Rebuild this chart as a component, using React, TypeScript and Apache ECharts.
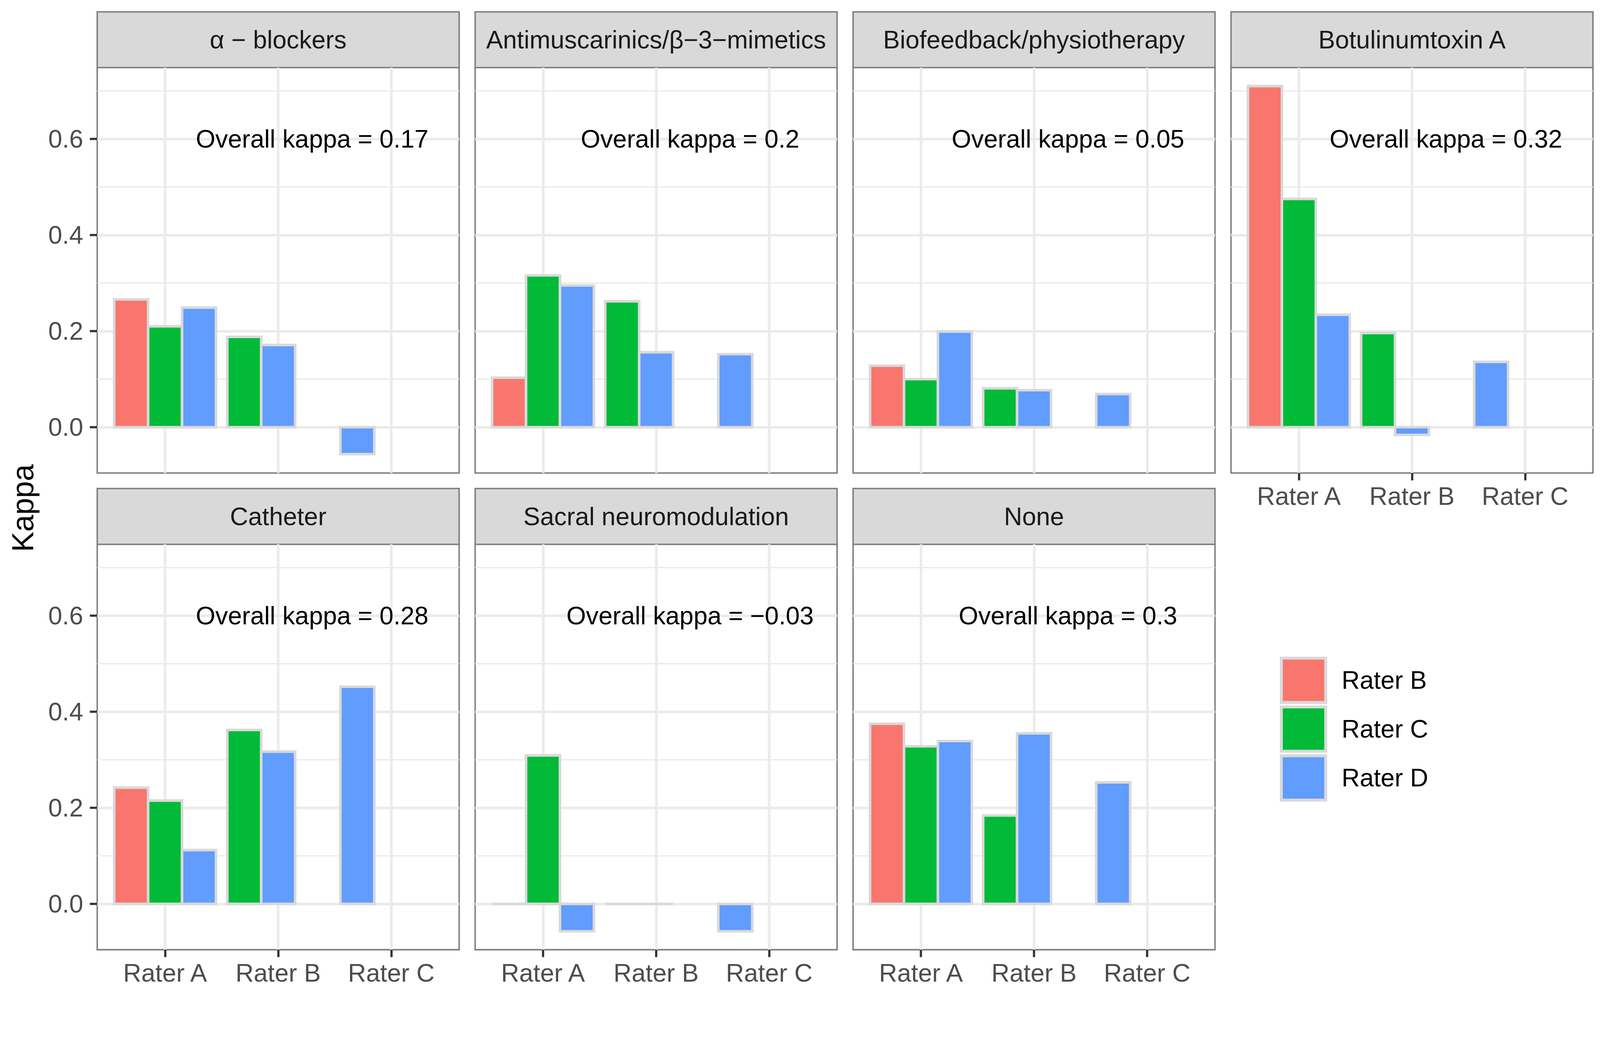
import React, { useEffect, useRef } from 'react';
import * as echarts from 'echarts';

// ---------- data ----------
const facetNames = [
  'α − blockers',
  'Antimuscarinics/β−3−mimetics',
  'Biofeedback/physiotherapy',
  'Botulinumtoxin A',
  'Catheter',
  'Sacral neuromodulation',
  'None',
];
const xRaters = ['Rater A', 'Rater B', 'Rater C'];
const fillRaters = ['Rater B', 'Rater C', 'Rater D'];
// rater pairs (x rater index, fill rater index among A..D): A-B, A-C, A-D, B-C, B-D, C-D
const pairs: [number, number][] = [[0, 1], [0, 2], [0, 3], [1, 2], [1, 3], [2, 3]];
const kappaAlphaBlockers = [0.266, 0.21, 0.249, 0.188, 0.171, -0.056];
const kappaAntimuscarinics = [0.103, 0.316, 0.295, 0.262, 0.156, 0.152];
const kappaBiofeedback = [0.128, 0.1, 0.199, 0.081, 0.077, 0.069];
const kappaBotulinum = [0.71, 0.475, 0.234, 0.196, -0.016, 0.136];
const kappaCatheter = [0.242, 0.215, 0.112, 0.362, 0.317, 0.452];
const kappaSacral = [0, 0.309, -0.057, 0, 0, -0.057];
const kappaNone = [0.375, 0.328, 0.339, 0.184, 0.355, 0.253];
const overallKappa = [0.17, 0.2, 0.05, 0.32, 0.28, -0.03, 0.3];
const yTicks = [0, 0.2, 0.4, 0.6];
const yMinorTicks = [0.1, 0.3, 0.5, 0.7];

const panelValues = [
  kappaAlphaBlockers,
  kappaAntimuscarinics,
  kappaBiofeedback,
  kappaBotulinum,
  kappaCatheter,
  kappaSacral,
  kappaNone,
];

// ---------- style / layout ----------
const FONT = '"Liberation Sans", Arial, Helvetica, sans-serif';
const fillColors = ['#F8766D', '#00BA38', '#619CFF'];
const OUTLINE = '#D9D9D9';
const GRID_COLOR = '#EBEBEB';
const BORDER = '#808080';
const W = 4328;
const H = 2707;
const COL_LEFT = 263;
const COL_PITCH = 1022.3;
const PANEL_W = 979;
const STRIP_TOPS = [32, 1322];
const STRIP_H = 151;
const PANEL_TOPS = [183, 1473];
const PANEL_H = 1097;
const DODGE = 0.9;
const ANNOT_POS = [2.3, 0.6];

function fmtKappa(v: number) {
  return String(v).replace('-', '−');
}

function buildOption() {
  const allVals = panelValues.flat().concat([0]);
  const dMin = Math.min(...allVals);
  const dMax = Math.max(...allVals);
  const span = dMax - dMin;
  const yMin = dMin - 0.05 * span;
  const yMax = dMax + 0.05 * span;

  const grids: any[] = [];
  const xAxes: any[] = [];
  const yAxes: any[] = [];
  const series: any[] = [];
  const graphics: any[] = [];

  panelValues.forEach((vals, k) => {
    const row = k < 4 ? 0 : 1;
    const col = k < 4 ? k : k - 4;
    const left = COL_LEFT + col * COL_PITCH;
    const top = PANEL_TOPS[row];
    const showX = row === 1 || col === 3;
    const showY = col === 0;

    grids.push({
      left,
      top,
      width: PANEL_W,
      height: PANEL_H,
      show: true,
      backgroundColor: '#FFFFFF',
      borderColor: BORDER,
      borderWidth: 4,
      containLabel: false,
    });

    xAxes.push({
      type: 'value',
      gridIndex: k,
      position: 'bottom',
      min: 0.4,
      max: xRaters.length + 0.6,
      axisLine: { show: false, onZero: false },
      axisTick: {
        show: showX,
        customValues: xRaters.map((_, i) => i + 1),
        length: 20,
        lineStyle: { color: '#333333', width: 6 },
      },
      axisLabel: {
        show: showX,
        customValues: xRaters.map((_, i) => i + 1),
        formatter: (v: number) => xRaters[Math.round(v) - 1] ?? '',
        margin: 29,
        fontSize: 68,
        color: '#4D4D4D',
        fontFamily: FONT,
      },
      splitLine: { show: true, lineStyle: { color: GRID_COLOR, width: 7 } },
    });

    yAxes.push({
      type: 'value',
      gridIndex: k,
      position: 'left',
      min: yMin,
      max: yMax,
      axisLine: { show: false, onZero: false },
      axisTick: {
        show: showY,
        customValues: yTicks,
        length: 20,
        lineStyle: { color: '#333333', width: 6 },
      },
      axisLabel: {
        show: showY,
        customValues: yTicks,
        formatter: (v: number) => v.toFixed(1),
        margin: 38,
        fontSize: 68,
        color: '#4D4D4D',
        fontFamily: FONT,
      },
      splitLine: { show: true, lineStyle: { color: GRID_COLOR, width: 7 } },
    });
    yAxes.push({
      type: 'value',
      gridIndex: k,
      position: 'left',
      min: yMin,
      max: yMax,
      axisLine: { show: false, onZero: false },
      axisTick: { show: false, customValues: yMinorTicks },
      axisLabel: { show: false, customValues: yMinorTicks },
      splitLine: { show: true, lineStyle: { color: GRID_COLOR, width: 3.5 } },
    });

    // bars: one custom series per fill rater
    fillRaters.forEach((name, f) => {
      const color = fillColors[f];
      const data: number[][] = [];
      pairs.forEach(([r, p], idx) => {
        if (p === f + 1) {
          const slot = p - r - 1;
          data.push([r + 1, slot, vals[idx]]);
        }
      });
      series.push({
        type: 'custom',
        name,
        xAxisIndex: k,
        yAxisIndex: 2 * k,
        itemStyle: { color },
        encode: { x: 0, y: 2 },
        silent: true,
        data,
        renderItem: (params: any, api: any) => {
          const cat = api.value(0);
          const slot = api.value(1);
          const v = api.value(2);
          const bw = DODGE / 3;
          const center = cat + (slot - 1) * bw;
          const p0 = api.coord([center - bw / 2, 0]);
          const p1 = api.coord([center + bw / 2, v]);
          return {
            type: 'rect',
            shape: {
              x: p0[0],
              y: Math.min(p0[1], p1[1]),
              width: p1[0] - p0[0],
              height: Math.abs(p1[1] - p0[1]),
            },
            style: { fill: color, stroke: OUTLINE, lineWidth: 7 },
          };
        },
      });
    });

    // overall kappa annotation
    series.push({
      type: 'custom',
      xAxisIndex: k,
      yAxisIndex: 2 * k,
      silent: true,
      encode: { x: 0, y: 1 },
      data: [[ANNOT_POS[0], ANNOT_POS[1], overallKappa[k]]],
      renderItem: (params: any, api: any) => {
        const pt = api.coord([api.value(0), api.value(1)]);
        return {
          type: 'text',
          x: pt[0],
          y: pt[1],
          style: {
            text: 'Overall kappa = ' + fmtKappa(api.value(2)),
            fontSize: 68,
            fontFamily: FONT,
            fill: '#000000',
            align: 'center',
            verticalAlign: 'middle',
          },
        };
      },
    });

    // strip
    graphics.push({
      type: 'rect',
      shape: { x: left, y: STRIP_TOPS[row], width: PANEL_W, height: STRIP_H },
      style: { fill: '#D9D9D9', stroke: BORDER, lineWidth: 4 },
      silent: true,
    });
    graphics.push({
      type: 'text',
      x: left + PANEL_W / 2,
      y: STRIP_TOPS[row] + STRIP_H / 2,
      style: {
        text: facetNames[k],
        fontSize: 68,
        fontFamily: FONT,
        fill: '#1A1A1A',
        align: 'center',
        verticalAlign: 'middle',
      },
      silent: true,
    });
  });

  graphics.push({
    type: 'text',
    x: 61,
    y: 1375,
    rotation: Math.PI / 2,
    style: {
      text: 'Kappa',
      fontSize: 82,
      fontFamily: FONT,
      fill: '#000000',
      align: 'center',
      verticalAlign: 'middle',
    },
    silent: true,
  });

  return {
    animation: false,
    backgroundColor: '#FFFFFF',
    textStyle: { fontFamily: FONT },
    grid: grids,
    xAxis: xAxes,
    yAxis: yAxes,
    series,
    graphic: graphics,
    legend: {
      orient: 'vertical',
      left: 3462,
      top: 1777,
      padding: 0,
      itemWidth: 120,
      itemHeight: 120,
      itemGap: 4,
      icon: 'rect',
      selectedMode: false,
      itemStyle: { borderColor: OUTLINE, borderWidth: 8 },
      textStyle: {
        fontSize: 68,
        color: '#000000',
        fontFamily: FONT,
        padding: [0, 0, 0, 38],
      },
      data: fillRaters.map((n) => ({ name: n })),
    },
  };
}

function viewportScale() {
  const vw = window.innerWidth || W;
  const vh = window.innerHeight || H;
  const s = Math.min(vw / W, vh / H);
  return s > 0 && s < 1 ? s : 1;
}

export default function App() {
  const ref = useRef<HTMLDivElement>(null);
  const s = viewportScale();
  useEffect(() => {
    if (!ref.current) return;
    const chart = echarts.init(ref.current, undefined, { renderer: 'svg', width: W, height: H });
    chart.setOption(buildOption() as any);
    return () => chart.dispose();
  }, []);
  return (
    <div
      style={{
        position: 'fixed',
        left: 0,
        top: 0,
        width: W * s,
        height: H * s,
        overflow: 'hidden',
        background: '#fff',
      }}
    >
      <div
        ref={ref}
        style={{
          width: W,
          height: H,
          transform: `scale(${s})`,
          transformOrigin: '0 0',
        }}
      />
    </div>
  );
}
